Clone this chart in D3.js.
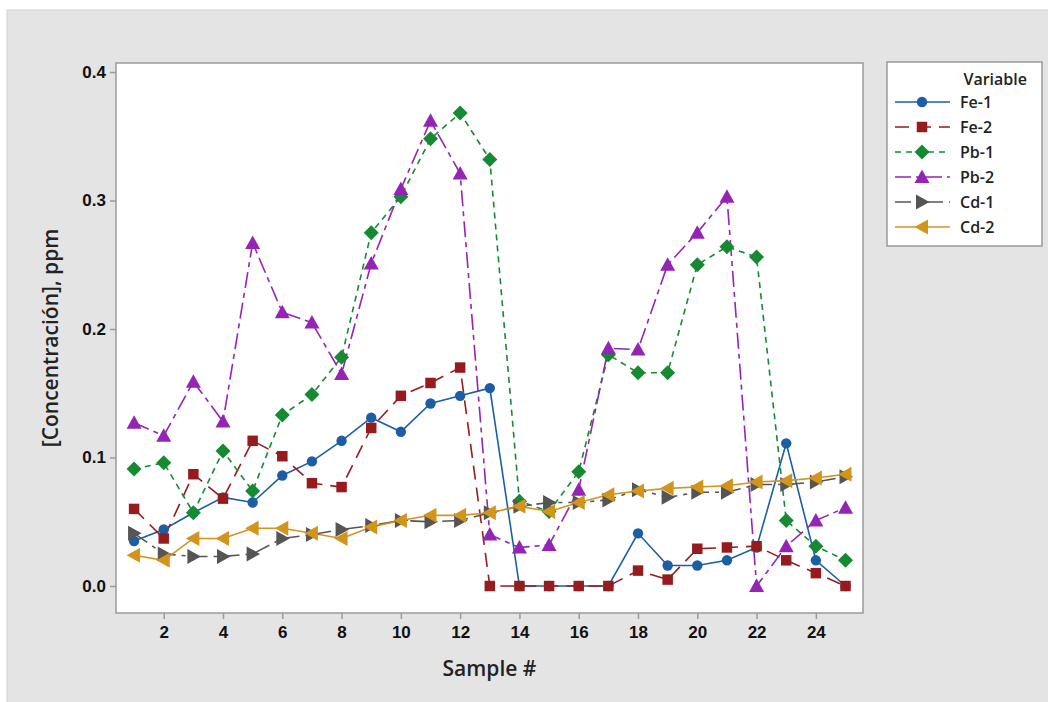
<!DOCTYPE html>
<html>
<head>
<meta charset="utf-8">
<script src="https://cdn.jsdelivr.net/npm/d3@7"></script>
<style>
  body { margin: 0; background: #fff; }
  svg { display: block; font-family: "Open Sans", "Noto Sans", sans-serif; }
</style>
</head>
<body>
<div id="chart"></div>
<script>
// sample numbers 1..25
var samples = [1,2,3,4,5,6,7,8,9,10,11,12,13,14,15,16,17,18,19,20,21,22,23,24,25];

var fe1 = [0.035,0.044,0.057,0.069,0.065,0.086,0.097,0.113,0.131,0.120,0.142,0.148,0.154,0,0,0,0,0.041,0.016,0.016,0.020,0.030,0.111,0.020,0];
var fe2 = [0.060,0.037,0.087,0.068,0.113,0.101,0.080,0.077,0.123,0.148,0.158,0.170,0,0,0,0,0,0.012,0.005,0.029,0.030,0.031,0.020,0.010,0];
var pb1 = [0.091,0.096,0.057,0.105,0.074,0.133,0.149,0.178,0.275,0.303,0.348,0.368,0.332,0.066,0.058,0.089,0.180,0.166,0.166,0.250,0.264,0.256,0.051,0.031,0.020];
var pb2 = [0.127,0.117,0.159,0.128,0.267,0.213,0.205,0.165,0.251,0.309,0.362,0.321,0.040,0.030,0.032,0.075,0.185,0.184,0.250,0.275,0.303,0,0.031,0.051,0.061];
var cd1 = [0.041,0.025,0.023,0.023,0.025,0.037,0.040,0.044,0.047,0.051,0.050,0.051,0.057,0.062,0.065,0.065,0.067,0.075,0.069,0.073,0.073,0.079,0.079,0.081,0.085];
var cd2 = [0.024,0.020,0.037,0.037,0.045,0.045,0.041,0.037,0.046,0.051,0.055,0.055,0.057,0.062,0.058,0.065,0.071,0.074,0.076,0.077,0.078,0.081,0.082,0.084,0.087];

var xTicks = [2,4,6,8,10,12,14,16,18,20,22,24];
var yTicks = [0.0,0.1,0.2,0.3,0.4];

var series = [
  {name: "Fe-1", values: fe1, color: "#1b5ea6", dash: null,      marker: "circle"},
  {name: "Fe-2", values: fe2, color: "#961b1e", dash: "14,8",    marker: "square"},
  {name: "Pb-1", values: pb1, color: "#168a32", dash: "6,5",     marker: "diamond"},
  {name: "Pb-2", values: pb2, color: "#9424b4", dash: "16,5,5,5", marker: "up"},
  {name: "Cd-1", values: cd1, color: "#555555", dash: "16,6,4,6", marker: "right"},
  {name: "Cd-2", values: cd2, color: "#d3941c", dash: null,      marker: "left"}
];

var W = 1048, H = 702;
var svg = d3.select("#chart").append("svg")
  .attr("width", W)
  .attr("height", H);

// grey panel
svg.append("rect")
  .attr("x", 7).attr("y", 10)
  .attr("width", W + 5).attr("height", H)
  .attr("fill", "#e4e4e4")
  .attr("stroke", "#d2d2d2");

var plot = {left: 116, top: 63, right: 863, bottom: 613};

var x = d3.scaleLinear().domain([0.39, 25.59]).range([plot.left, plot.right]);
var y = d3.scaleLinear().domain([-0.021, 0.407]).range([plot.bottom, plot.top]);

svg.append("rect")
  .attr("x", plot.left).attr("y", plot.top)
  .attr("width", plot.right - plot.left).attr("height", plot.bottom - plot.top)
  .attr("fill", "#fff")
  .attr("stroke", "#9a9a9a")
  .attr("stroke-width", 1.5);

// axes
var xAxis = svg.append("g")
  .attr("transform", "translate(0," + plot.bottom + ")")
  .call(d3.axisBottom(x).tickValues(xTicks).tickSize(6).tickPadding(4).tickFormat(d3.format("d")));
var yAxis = svg.append("g")
  .attr("transform", "translate(" + plot.left + ",0)")
  .call(d3.axisLeft(y).tickValues(yTicks).tickSize(6).tickPadding(4).tickFormat(d3.format(".1f")));

[xAxis, yAxis].forEach(function(a) {
  a.select(".domain").remove();
  a.selectAll(".tick line").attr("stroke", "#9a9a9a").attr("stroke-width", 1.5);
  a.selectAll(".tick text").attr("fill", "#111").style("font-size", "17px").style("font-weight", 600);
});
xAxis.selectAll(".tick text").attr("dy", "0.9em");

svg.append("text")
  .attr("x", (plot.left + plot.right) / 2)
  .attr("y", 676)
  .attr("text-anchor", "middle")
  .style("font-size", "21px")
  .style("font-weight", 600)
  .attr("fill", "#222")
  .text("Sample #");

svg.append("text")
  .attr("transform", "translate(58," + ((plot.top + plot.bottom) / 2) + ") rotate(-90)")
  .attr("text-anchor", "middle")
  .style("font-size", "21px")
  .style("font-weight", 600)
  .attr("fill", "#222")
  .text("[Concentración], ppm");

// marker shapes
function markerPath(kind) {
  if (kind === "circle") return d3.symbol(d3.symbolCircle, 85)();
  if (kind === "square") return d3.symbol(d3.symbolSquare, 110)();
  if (kind === "diamond") return "M0,-7.5L7.5,0L0,7.5L-7.5,0Z";
  if (kind === "up") return "M0,-7.5L7.5,6L-7.5,6Z";
  if (kind === "right") return "M-6,-7.5L7.5,0L-6,7.5Z";
  if (kind === "left") return "M6,-7.5L-7.5,0L6,7.5Z";
}

var line = d3.line()
  .x(function(d, i) { return x(samples[i]); })
  .y(function(d) { return y(d); });

series.forEach(function(s) {
  svg.append("path")
    .datum(s.values)
    .attr("fill", "none")
    .attr("stroke", s.color)
    .attr("stroke-width", 1.6)
    .attr("stroke-dasharray", s.dash)
    .attr("d", line);
});

series.forEach(function(s) {
  svg.append("g").selectAll("path")
    .data(s.values)
    .enter()
    .append("path")
    .attr("transform", function(d, i) { return "translate(" + x(samples[i]) + "," + y(d) + ")"; })
    .attr("d", markerPath(s.marker))
    .attr("fill", s.color);
});

// legend
var leg = svg.append("g");
leg.append("rect")
  .attr("x", 887).attr("y", 62)
  .attr("width", 155).attr("height", 184)
  .attr("fill", "#fff")
  .attr("stroke", "#9a9a9a")
  .attr("stroke-width", 1.5);
leg.append("text")
  .attr("x", 1027).attr("y", 85)
  .attr("text-anchor", "end")
  .style("font-size", "16px")
  .style("font-weight", 600)
  .attr("fill", "#222")
  .text("Variable");

series.forEach(function(s, i) {
  var ly = 102 + i * 25;
  leg.append("line")
    .attr("x1", 895).attr("x2", 950)
    .attr("y1", ly).attr("y2", ly)
    .attr("stroke", s.color)
    .attr("stroke-width", 1.6)
    .attr("stroke-dasharray", s.dash);
  leg.append("path")
    .attr("transform", "translate(922," + ly + ")")
    .attr("d", markerPath(s.marker))
    .attr("fill", s.color);
  leg.append("text")
    .attr("x", 960).attr("y", ly + 6)
    .style("font-size", "16px")
    .style("font-weight", 600)
    .attr("fill", "#222")
    .text(s.name);
});
</script>
</body>
</html>
